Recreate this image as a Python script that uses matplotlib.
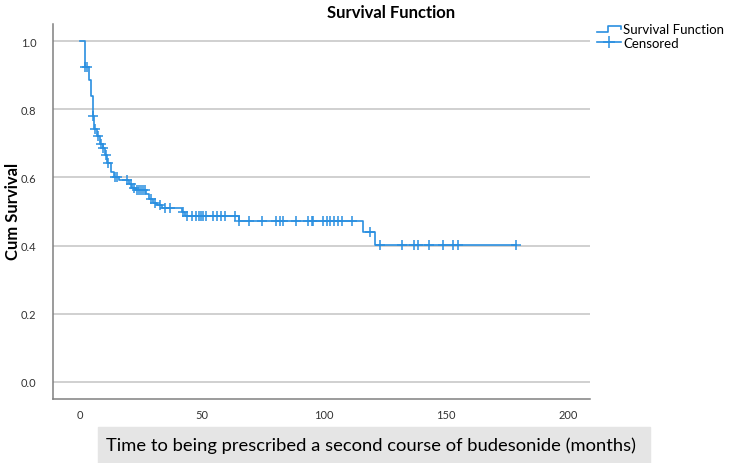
import numpy as np
import matplotlib
matplotlib.use("Agg")
import matplotlib.pyplot as plt
from matplotlib.lines import Line2D
from matplotlib.patches import Rectangle
from matplotlib.legend_handler import HandlerBase

# Kaplan-Meier steps: event time (months) and survival after it
event_times = [2.0, 3.7, 4.5, 5.2, 5.9, 6.9, 8.2, 9.5, 10.3, 11.3, 12.6, 13.8, 16.0,
               20.3, 21.5, 23.0, 27.3, 28.5, 30.0, 31.5, 33.5, 42.0, 43.2, 65.0,
               116.0, 120.8]
event_surv = [0.925, 0.885, 0.84, 0.78, 0.742, 0.722, 0.698, 0.685, 0.667, 0.642,
              0.615, 0.602, 0.592, 0.58, 0.57, 0.563, 0.55, 0.537, 0.525, 0.518,
              0.51, 0.50, 0.488, 0.473, 0.439, 0.402]

# censored observations (months)
censor_times = [2.0, 2.8, 5.4, 6.2, 7.5, 8.6, 9.6, 10.6, 11.4, 14.2, 15.2, 19.5, 21.0,
                22.3, 23.4, 24.2, 25.0, 25.8, 26.6, 29.2, 30.8, 33.0, 35.0, 37.0, 42.3,
                44.0, 45.8, 47.6, 48.7, 49.5, 50.3, 51.7, 54.7, 56.1, 57.7, 59.5, 63.6,
                65.3, 69.5, 74.5, 80.4, 82.1, 83.2, 88.5, 93.3, 95.1, 95.7, 99.6, 101.2,
                102.6, 104.2, 105.6, 107.4, 111.5, 119.0, 122.8, 132.0, 136.8, 138.6,
                142.9, 148.8, 152.9, 154.8, 178.8]

x_ticks = [0, 50, 100, 150, 200]
y_ticks = [0.0, 0.2, 0.4, 0.6, 0.8, 1.0]

blue = '#2a8fe0'
font = ['Lato', 'DejaVu Sans']
plt.rcParams['font.family'] = font

# step curve from t=0 to the last follow-up
times = np.array([0.0] + event_times + [max(censor_times)])
surv = np.array([1.0] + event_surv + [event_surv[-1]])

def surv_at(t):
    idx = np.searchsorted(event_times, t, side='right')
    return 1.0 if idx == 0 else event_surv[idx - 1]

censor_surv = [surv_at(t) for t in censor_times]


class StepHandler(HandlerBase):
    def create_artists(self, legend, orig_handle, xdescent, ydescent, width, height,
                       fontsize, trans):
        xs = np.array([0, 0.45, 0.45, 1.0, 1.0]) * width - xdescent
        ys = np.array([0.15, 0.15, 0.8, 0.8, 0.45]) * height - ydescent
        ln = Line2D(xs, ys, color=blue, lw=1.2, transform=trans)
        return [ln]


fig = plt.figure(figsize=(7.3, 4.64), dpi=100)
ax = fig.add_axes([53 / 730, 1 - 400 / 464, (590 - 53) / 730, (400 - 25) / 464])

ax.step(times, surv, where='post', color=blue, lw=1.2)
ax.plot(censor_times, censor_surv, '+', color=blue, ms=7, mew=1.1)

ax.set_xlim(-11, 209)
ax.set_ylim(-0.05, 1.05)
ax.set_xticks(x_ticks)
ax.set_xticklabels([str(v) for v in x_ticks])
ax.set_yticks(y_ticks)
ax.set_yticklabels([f'{v:.1f}' for v in y_ticks])
ax.tick_params(length=0, labelsize=8, colors='#333333', pad=7)
ax.tick_params(axis='y', pad=12)

ax.grid(axis='y', color='#c8c8c8', lw=1.2)
ax.set_axisbelow(True)
for side in ['top', 'right']:
    ax.spines[side].set_visible(False)
for side in ['left', 'bottom']:
    ax.spines[side].set_color('#808080')
    ax.spines[side].set_linewidth(1.1)

fig.text(13 / 730, 1 - 211 / 464, 'Cum Survival', rotation=90, ha='center',
         va='center', fontsize=12, fontweight='bold')
fig.text(391 / 730, 1 - 13 / 464, 'Survival Function', ha='center', va='center',
         fontsize=12, fontweight='bold')

# grey strip behind the x axis title
fig.patches.append(Rectangle((98 / 730, 0), (650 - 98) / 730, 36 / 464,
                             transform=fig.transFigure, color='#e5e5e5', zorder=0))
fig.text(371 / 730, 1 - 446 / 464,
         'Time to being prescribed a second course of budesonide (months)',
         ha='center', va='center', fontsize=13.2)

h_step = Line2D([], [], color=blue)
h_cens = Line2D([], [], color=blue, marker='+', ms=9, mew=1.1, lw=1.2)
fig.legend([h_step, h_cens], ['Survival Function', 'Censored'],
           handler_map={h_step: StepHandler()},
           loc='upper left', bbox_to_anchor=(597 / 730, 1 - 24 / 464),
           frameon=False, fontsize=9.5, handlelength=1.8, handletextpad=0.2,
           labelspacing=0.15, borderpad=0, borderaxespad=0)

fig.savefig('out.png', dpi=100)
